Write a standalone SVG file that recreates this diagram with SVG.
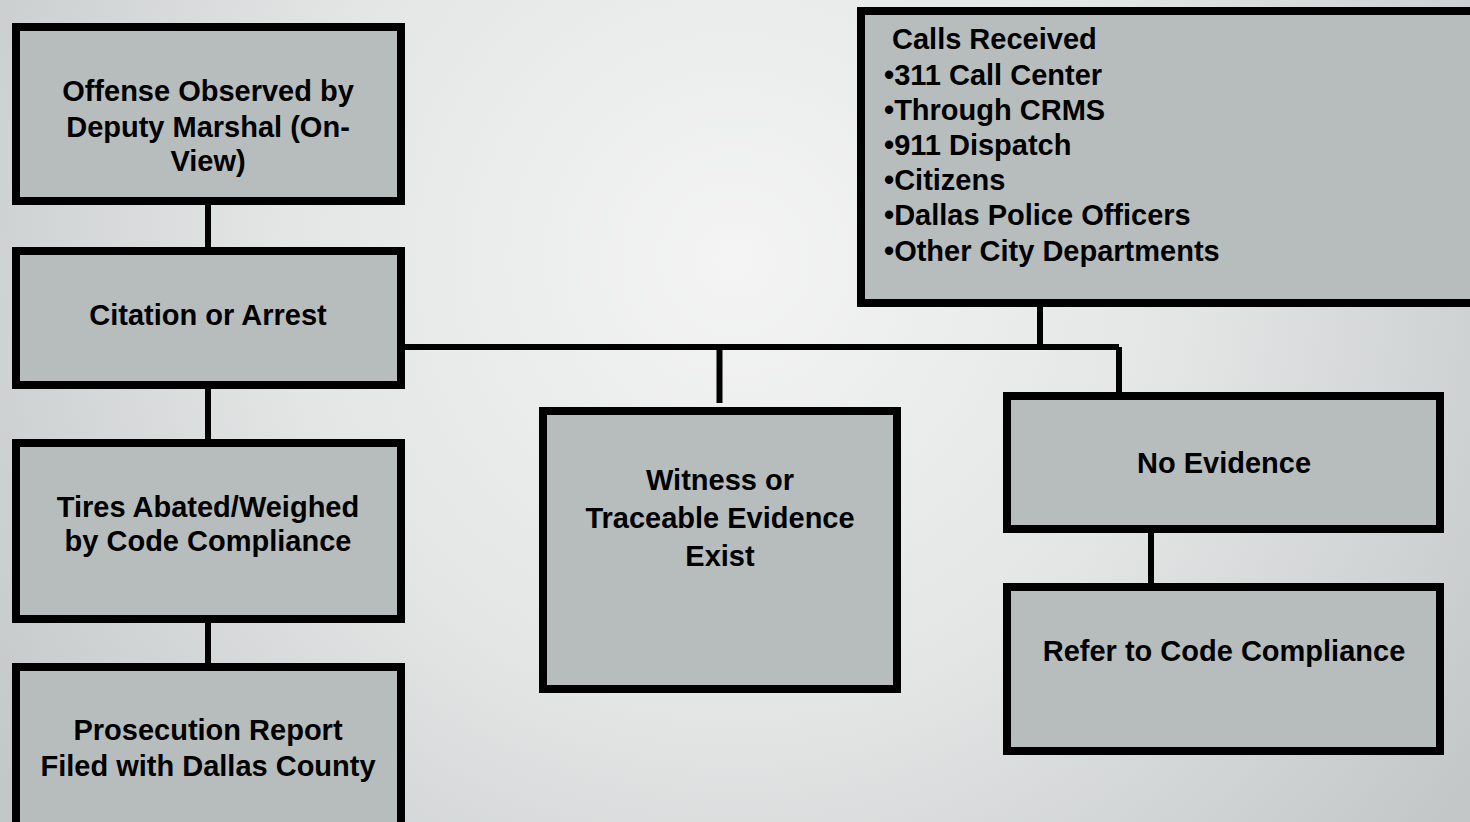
<svg xmlns="http://www.w3.org/2000/svg" width="1470" height="822" viewBox="0 0 1470 822">
<defs>
<radialGradient id="bg" cx="735" cy="260" r="900" gradientUnits="userSpaceOnUse">
<stop offset="0" stop-color="#f3f4f3"/>
<stop offset="0.5" stop-color="#e4e6e6"/>
<stop offset="1" stop-color="#c3c7c7"/>
</radialGradient>
<style>
.box{fill:#b7bdbc;stroke:#000;stroke-width:8}
.t{font-family:"Liberation Sans",Arial,sans-serif;font-weight:bold;font-size:29px;fill:#000}
.c{text-anchor:middle}
.conn{stroke:#000;stroke-width:6;fill:none}
</style>
</defs>
<rect width="1470" height="822" fill="url(#bg)"/>
<g id="connectors">
<line class="conn" x1="208" y1="205" x2="208" y2="247"/>
<line class="conn" x1="208" y1="380" x2="208" y2="439"/>
<line class="conn" x1="208" y1="623" x2="208" y2="663"/>
<line class="conn" x1="405" y1="347" x2="1119" y2="347"/>
<line class="conn" x1="719.5" y1="347" x2="719.5" y2="403"/>
<line class="conn" x1="1040" y1="299" x2="1040" y2="347" stroke-linecap="round"/>
<line class="conn" x1="1119" y1="347" x2="1119" y2="392"/>
<line class="conn" x1="1151" y1="523" x2="1151" y2="583"/>
</g>
<g id="offense">
<rect class="box" x="16" y="27" width="385" height="174"/>
<text class="t c" x="208" y="101">Offense Observed by</text>
<text class="t c" x="208" y="137">Deputy Marshal (On-</text>
<text class="t c" x="208" y="171">View)</text>
</g>
<g id="citation">
<rect class="box" x="16" y="251" width="385" height="134"/>
<text class="t c" x="208" y="325">Citation or Arrest</text>
</g>
<g id="tires">
<rect class="box" x="16" y="443" width="385" height="176"/>
<text class="t c" x="208" y="517">Tires Abated/Weighed</text>
<text class="t c" x="208" y="551">by Code Compliance</text>
</g>
<g id="prosecution">
<rect class="box" x="16" y="667" width="385" height="170"/>
<text class="t c" x="208" y="740">Prosecution Report</text>
<text class="t c" x="208" y="776">Filed with Dallas County</text>
</g>
<g id="calls">
<rect class="box" x="861" y="11" width="620" height="292"/>
<text class="t" x="892" y="49">Calls Received</text>
<text class="t" x="884" y="85">•311 Call Center</text>
<text class="t" x="884" y="120">•Through CRMS</text>
<text class="t" x="884" y="155">•911 Dispatch</text>
<text class="t" x="884" y="190">•Citizens</text>
<text class="t" x="884" y="225">•Dallas Police Officers</text>
<text class="t" x="884" y="261">•Other City Departments</text>
</g>
<g id="witness">
<rect class="box" x="543" y="411" width="354" height="278"/>
<text class="t c" x="720" y="490">Witness or</text>
<text class="t c" x="720" y="528">Traceable Evidence</text>
<text class="t c" x="720" y="566">Exist</text>
</g>
<g id="noevidence">
<rect class="box" x="1007" y="396" width="433" height="133"/>
<text class="t c" x="1224" y="473">No Evidence</text>
</g>
<g id="refer">
<rect class="box" x="1007" y="587" width="433" height="164"/>
<text class="t c" x="1224" y="661">Refer to Code Compliance</text>
</g>
</svg>
